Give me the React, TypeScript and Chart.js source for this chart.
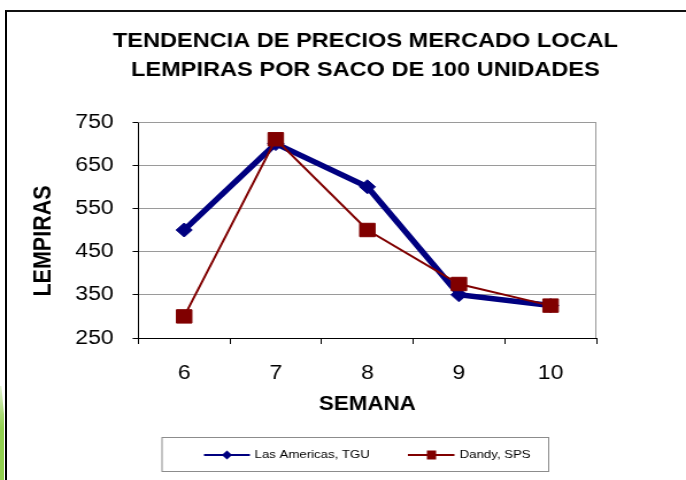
import React, { useEffect, useRef } from 'react';
import { Chart, registerables } from 'chart.js';

Chart.register(...registerables);

const weeks = ['6', '7', '8', '9', '10'];
const lasAmericas = [500, 700, 600, 350, 325];
const dandy = [300, 710, 500, 375, 325];
const yTicks = [250, 350, 450, 550, 650, 750];
const titleLines = ['TENDENCIA DE PRECIOS MERCADO LOCAL', 'LEMPIRAS POR SACO DE 100 UNIDADES'];
const seriesNames = ['Las Americas, TGU', 'Dandy, SPS'];
const seriesColors = ['#000080', '#800000'];
const xTitle = 'SEMANA';
const yTitle = 'LEMPIRAS';

const W = 597;
const H = 480;
const SX = 686 / W;
const FONT = "'Liberation Sans', Arial, sans-serif";

const plotBorder = {
  id: 'plotBorder',
  beforeDatasetsDraw(chart: any) {
    const { ctx, chartArea } = chart;
    ctx.save();
    ctx.strokeStyle = '#9a9a9a';
    ctx.lineWidth = 1;
    ctx.beginPath();
    ctx.moveTo(chartArea.left, chartArea.top + 0.5);
    ctx.lineTo(chartArea.right - 0.5, chartArea.top + 0.5);
    ctx.lineTo(chartArea.right - 0.5, chartArea.bottom);
    ctx.stroke();
    ctx.restore();
  },
};

const titles = {
  id: 'titles',
  afterDraw(chart: any) {
    const { ctx } = chart;
    ctx.save();
    ctx.fillStyle = '#000';
    ctx.textAlign = 'center';
    ctx.textBaseline = 'middle';
    ctx.font = `bold 20.5px ${FONT}`;
    titleLines.forEach((t, i) => ctx.fillText(t, 318, 41.5 + i * 29));
    ctx.translate(38.5, 241);
    ctx.rotate(-Math.PI / 2);
    ctx.font = `bold 21.5px ${FONT}`;
    ctx.fillText(yTitle, 0, 0);
    ctx.restore();
  },
};

const boxLegend = {
  id: 'boxLegend',
  afterDraw(chart: any) {
    const { ctx } = chart;
    ctx.save();
    const bx = 141, by = 437.5, bw = 336.5, bh = 34;
    ctx.strokeStyle = '#8c8c8c';
    ctx.lineWidth = 1;
    ctx.strokeRect(bx, by, bw, bh);
    const cy = 455;
    const items = [
      { x0: 177.5, x1: 217.5, mx: 197.5, tx: 221.5, style: 'diamond' },
      { x0: 355, x1: 395.5, mx: 375.5, tx: 400, style: 'square' },
    ];
    items.forEach((it, i) => {
      const c = seriesColors[i];
      ctx.strokeStyle = c;
      ctx.fillStyle = c;
      ctx.lineWidth = 2;
      ctx.beginPath();
      ctx.moveTo(it.x0, cy);
      ctx.lineTo(it.x1, cy);
      ctx.stroke();
      ctx.beginPath();
      if (it.style === 'diamond') {
        const r = 4.5;
        ctx.moveTo(it.mx - r, cy);
        ctx.lineTo(it.mx, cy - r);
        ctx.lineTo(it.mx + r, cy);
        ctx.lineTo(it.mx, cy + r);
        ctx.closePath();
      } else {
        ctx.rect(it.mx - 4, cy - 4.5, 8, 9);
      }
      ctx.fill();
      ctx.fillStyle = '#000';
      ctx.font = `11.5px ${FONT}`;
      ctx.textBaseline = 'middle';
      ctx.textAlign = 'left';
      ctx.fillText(seriesNames[i], it.tx, cy);
    });
    ctx.restore();
  },
};

export default function App() {
  const ref = useRef<HTMLCanvasElement>(null);

  useEffect(() => {
    if (!ref.current) return;
    const chart = new Chart(ref.current, {
      type: 'line',
      data: {
        labels: weeks,
        datasets: [
          {
            label: seriesNames[0],
            data: lasAmericas,
            borderColor: seriesColors[0],
            backgroundColor: seriesColors[0],
            borderWidth: 5.5,
            pointStyle: 'rectRot',
            pointRadius: 7,
            pointBorderWidth: 1,
            tension: 0,
            order: 1,
          },
          {
            label: seriesNames[1],
            data: dandy,
            borderColor: seriesColors[1],
            backgroundColor: seriesColors[1],
            borderWidth: 2,
            pointStyle: 'rect',
            pointRadius: 9.5,
            pointBorderWidth: 1,
            tension: 0,
            order: 0,
          },
        ],
      },
      options: {
        responsive: false,
        animation: false,
        devicePixelRatio: 1,
        layout: { padding: { left: 21, right: 78, top: 122, bottom: 59.6 } },
        plugins: {
          legend: { display: false },
          tooltip: { enabled: false },
          title: { display: false },
        },
        scales: {
          x: {
            type: 'category',
            offset: true,
            afterFit: (s: any) => { s.height = 82.4; },
            grid: { offset: true, drawOnChartArea: false, tickLength: 6, tickColor: '#000', color: '#000' },
            border: { color: '#000', width: 1 },
            ticks: { color: '#000', font: { family: FONT, size: 20 }, padding: 17.5, maxRotation: 0 },
            title: { display: true, text: xTitle, color: '#000', font: { family: FONT, size: 19.5, weight: 'bold' }, padding: { top: 4, bottom: 4 } },
          },
          y: {
            min: 250,
            max: 750,
            afterFit: (s: any) => { s.width = 99.4; },
            afterBuildTicks: (s: any) => { s.ticks = yTicks.map((v) => ({ value: v })); },
            grid: { color: '#9a9a9a', tickColor: '#000', tickLength: 5, lineWidth: 1 },
            border: { color: '#000', width: 1 },
            ticks: { color: '#000', font: { family: FONT, size: 20 }, padding: 16.5 },
            title: { display: false },
          },
        },
      },
      plugins: [plotBorder, titles, boxLegend],
    });
    return () => chart.destroy();
  }, []);

  return (
    <div style={{ position: 'absolute', left: 0, top: 0, width: 686, height: 480, overflow: 'hidden', background: '#fff' }}>
      <div
        style={{
          position: 'absolute', left: 4.5, top: 9.5, width: 720, height: 500,
          borderLeft: '2px solid #000', borderTop: '2px solid #111',
        }}
      />
      <div
        style={{
          position: 'absolute', left: 0, top: 386, width: 4, height: 94,
          background: 'linear-gradient(to bottom, #e4f2d4 0%, #a9da74 30%, #92D050 45%, #92D050 100%)',
          clipPath: 'polygon(0 0, 35% 0, 100% 30%, 100% 100%, 0 100%)',
        }}
      />
      <canvas
        ref={ref}
        width={W}
        height={H}
        style={{ position: 'absolute', left: 0, top: 0, width: W, height: H, transform: `scaleX(${SX})`, transformOrigin: '0 0' }}
      />
    </div>
  );
}
